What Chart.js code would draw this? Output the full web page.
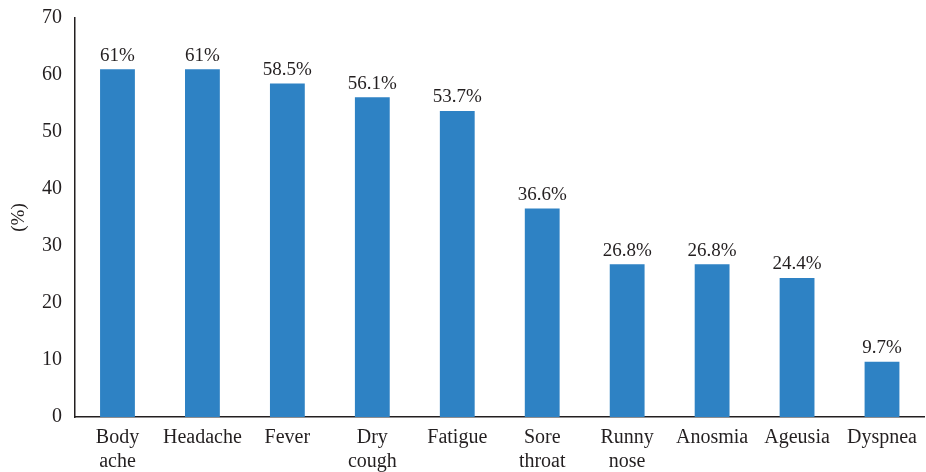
<!DOCTYPE html>
<html>
<head>
<meta charset="utf-8">
<script src="https://cdn.jsdelivr.net/npm/chart.js@4"></script>
<style>
  html, body { margin: 0; padding: 0; background: #fff; }
  #wrap { width: 926px; height: 472px; position: relative; }
</style>
</head>
<body>
<div id="wrap"><canvas id="chart"></canvas></div>
<script>
const categories = [['Body', 'ache'], 'Headache', 'Fever', ['Dry', 'cough'], 'Fatigue',
  ['Sore', 'throat'], ['Runny', 'nose'], 'Anosmia', 'Ageusia', 'Dyspnea'];
const percentages = [61, 61, 58.5, 56.1, 53.7, 36.6, 26.8, 26.8, 24.4, 9.7];
const valueLabels = ['61%', '61%', '58.5%', '56.1%', '53.7%', '36.6%', '26.8%', '26.8%', '24.4%', '9.7%'];

const serif = "'Liberation Serif', 'DejaVu Serif', serif";
const ink = '#231f20';

// draws the percentage text above each bar
const barLabels = {
  id: 'barLabels',
  afterDatasetsDraw(chart) {
    const ctx = chart.ctx;
    const meta = chart.getDatasetMeta(0);
    ctx.save();
    ctx.font = '19px ' + serif;
    ctx.fillStyle = ink;
    ctx.textAlign = 'center';
    ctx.textBaseline = 'bottom';
    meta.data.forEach((bar, i) => {
      ctx.fillText(valueLabels[i], bar.x, bar.y - 4);
    });
    ctx.restore();
  }
};

new Chart(document.getElementById('chart'), {
  type: 'bar',
  data: {
    labels: categories,
    datasets: [{
      data: percentages,
      backgroundColor: '#2e82c4',
      categoryPercentage: 1,
      barPercentage: 0.41
    }]
  },
  options: {
    responsive: true,
    maintainAspectRatio: false,
    animation: false,
    layout: { padding: { top: 10, right: 0, left: 8, bottom: 0 } },
    plugins: {
      legend: { display: false },
      tooltip: { enabled: false }
    },
    scales: {
      x: {
        grid: { display: false, drawTicks: false },
        border: { color: ink, width: 1.5 },
        ticks: { color: ink, font: { family: serif, size: 20, lineHeight: 1.2 }, padding: 9, maxRotation: 0, autoSkip: false },
        afterFit(scale) { scale.height = 55; }
      },
      y: {
        min: 0,
        max: 70,
        grid: { display: false, drawTicks: true, tickLength: 7, tickColor: ink, tickWidth: 1.5 },
        border: { color: ink, width: 1.5 },
        ticks: { stepSize: 10, color: ink, font: { family: serif, size: 20 }, padding: 6 },
        title: { display: true, text: '(%)', color: ink, font: { family: serif, size: 19 }, padding: { top: 0, bottom: 0 } },
        afterFit(scale) { scale.width = 67; }
      }
    }
  },
  plugins: [barLabels]
});
</script>
</body>
</html>
